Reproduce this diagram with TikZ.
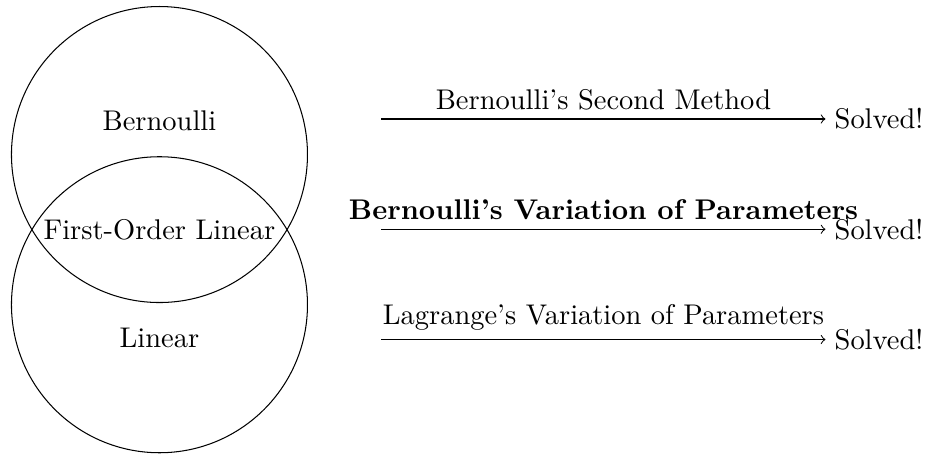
\documentclass[tikz,border=0pt]{standalone}
\begin{document}
\begin{tikzpicture}[
  every node/.style={font=\fontsize{10.95}{13.6}\selectfont},
  ring/.style={draw, circle, minimum size=4cm, inner sep=0pt},
  lbl/.style={inner sep=0pt},
  res/.style={anchor=west},
  flow/.style={->}
]
\useasboundingbox (-2.155,-4.034) rectangle (10.399,2.088);
\node[ring] (top) at (0,0) {};
\node[ring] (bot) at (0,-2.03) {};
\node[lbl] (bern) at (0,0.45) {Bernoulli};
\node[lbl] (fol) at (0,-1.015) {First-Order Linear};
\node[lbl] (lin) at (0,-2.48) {Linear};

\coordinate (a1) at (3,0.48);
\coordinate (a2) at (3,-1.01);
\coordinate (a3) at (3,-2.5);
\node[res] (s1) at (9,0.48) {Solved!};
\node[res] (s2) at (9,-1.01) {Solved!};
\node[res] (s3) at (9,-2.5) {Solved!};
\draw[flow] (a1) -- node[above] {Bernoulli's Second Method} (s1.west);
\draw[flow] (a2) -- node[above] {\textbf{Bernoulli's Variation of Parameters}} (s2.west);
\draw[flow] (a3) -- node[above] {Lagrange's Variation of Parameters} (s3.west);
\end{tikzpicture}
\end{document}
